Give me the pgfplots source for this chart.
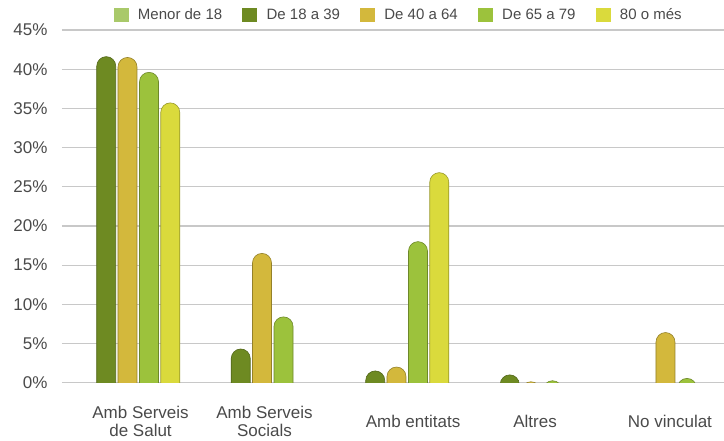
\documentclass[border=0pt]{standalone}
\usepackage{pgfplots}
\pgfplotsset{compat=1.18}
\usepackage{fontspec}
\setmainfont{Liberation Sans}
\definecolor{cMenor}{HTML}{A9C96A}
\definecolor{cA}{HTML}{6E8A22}
\definecolor{cB}{HTML}{D3B83C}
\definecolor{cC}{HTML}{9CC23C}
\definecolor{cD}{HTML}{DADA3C}
\definecolor{txt}{HTML}{4A4A4A}
\definecolor{grid}{HTML}{C8C8C8}
\pgfdeclareplotmark{rbar}{%
  \pgfpathmoveto{\pgfpoint{-9.5pt}{-600pt}}%
  \pgfpathlineto{\pgfpoint{-9.5pt}{-9.5pt}}%
  \pgfpatharc{180}{0}{9.5pt}%
  \pgfpathlineto{\pgfpoint{9.5pt}{-600pt}}%
  \pgfpathclose
  \pgfusepathqfillstroke}
\begin{document}
\begin{tikzpicture}
\useasboundingbox (-62pt,-58.3pt) rectangle (662pt,382.7pt);
\begin{axis}[
  at={(0,0)}, anchor=south west,
  scale only axis,
  width=662pt, height=352.7pt,
  xmin=-0.487, xmax=4.435,
  ymin=0, ymax=45,
  clip marker paths=true,
  axis line style={draw=none},
  major tick length=0pt,
  ytick={0,5,10,15,20,25,30,35,40,45},
  yticklabels={0\%,5\%,10\%,15\%,20\%,25\%,30\%,35\%,40\%,45\%},
  yticklabel style={font=\fontsize{17}{20}\selectfont, text=txt, xshift=-11pt},
  ymajorgrids,
  grid style={draw=grid, line width=1.2pt},
  xtick={0.097,1.019,2.123,3.03,4.033},
  xticklabels={Amb Serveis\\de Salut, Amb Serveis\\Socials, Amb entitats, Altres, No vinculat},
  xticklabel style={font=\fontsize{17}{17.7}\selectfont, text=txt, align=center, anchor=center, yshift=-39pt},
  legend columns=5,
  legend style={at={(axis description cs:0.507,1.0425)}, anchor=center, draw=none, fill=none,
    font=\fontsize{15}{18}\selectfont, text=txt,
    nodes={inner sep=0pt, anchor=west},
    /tikz/every even column/.append style={column sep=20pt},
    /tikz/every odd column/.append style={column sep=10pt}},
]
\addlegendimage{legend image code/.code={\fill[cMenor] (0pt,-6.5pt) rectangle (14pt,6.5pt);}}
\addlegendentry{Menor de 18}
\addplot[only marks, mark=rbar, mark options={fill=cA, draw=cA!75!black, line width=0.6pt},
  legend image code/.code={\fill[cA] (0pt,-6.5pt) rectangle (14pt,6.5pt);}]
  coordinates {(-0.158,41.6) (0.842,4.3) (1.842,1.5) (2.842,1.0)};
\addlegendentry{De 18 a 39}
\addplot[only marks, mark=rbar, mark options={fill=cB, draw=cB!70!black, line width=0.6pt},
  legend image code/.code={\fill[cB] (0pt,-6.5pt) rectangle (14pt,6.5pt);}]
  coordinates {(0,41.5) (1,16.5) (2,2.0) (3,0.12) (4,6.4)};
\addlegendentry{De 40 a 64}
\addplot[only marks, mark=rbar, mark options={fill=cC, draw=cC!70!black, line width=0.6pt},
  legend image code/.code={\fill[cC] (0pt,-6.5pt) rectangle (14pt,6.5pt);}]
  coordinates {(0.16,39.6) (1.16,8.4) (2.16,18.0) (3.16,0.25) (4.16,0.55)};
\addlegendentry{De 65 a 79}
\addplot[only marks, mark=rbar, mark options={fill=cD, draw=cD!70!black, line width=0.6pt},
  legend image code/.code={\fill[cD] (0pt,-6.5pt) rectangle (14pt,6.5pt);}]
  coordinates {(0.318,35.7) (2.318,26.8)};
\addlegendentry{80 o més}
\end{axis}
\end{tikzpicture}
\end{document}
